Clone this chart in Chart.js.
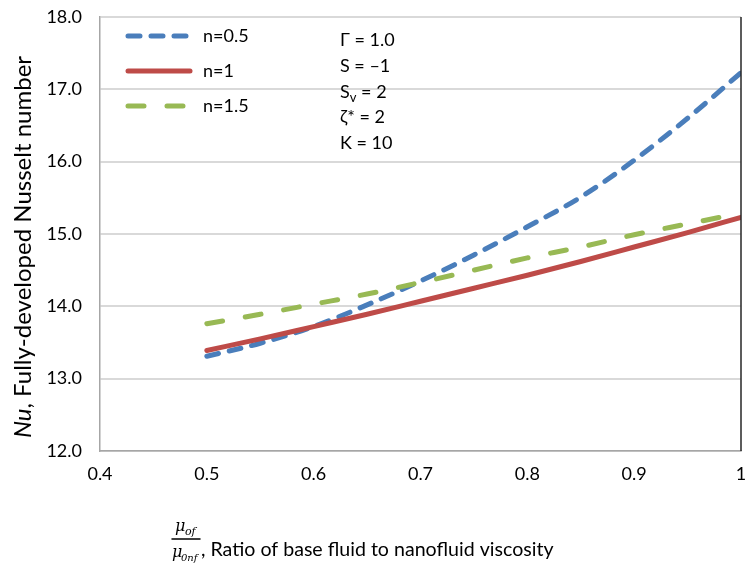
<!DOCTYPE html>
<html><head><meta charset="utf-8">
<script src="https://cdn.jsdelivr.net/npm/chart.js@4.4.0/dist/chart.umd.min.js"></script>
<style>html,body{margin:0;padding:0;background:#fff;}#wrap{width:747px;height:571px;position:relative;}</style>
</head><body><div id="wrap"><canvas id="c" width="747" height="571"></canvas></div>
<script>
const viscosityRatio = [0.5, 0.55, 0.6, 0.65, 0.7, 0.75, 0.8, 0.85, 0.9, 0.95, 1.0];
const nuN05 = [13.31, 13.49, 13.72, 14.02, 14.35, 14.71, 15.10, 15.51, 16.02, 16.60, 17.23];
const nuN1  = [13.39, 13.55, 13.72, 13.89, 14.07, 14.25, 14.43, 14.62, 14.82, 15.02, 15.23];
const nuN15 = [13.76, 13.89, 14.03, 14.17, 14.33, 14.50, 14.67, 14.82, 14.99, 15.14, 15.29];
const seriesNames = ['n=0.5', 'n=1', 'n=1.5'];
const xTickLabels = ['0.4', '0.5', '0.6', '0.7', '0.8', '0.9', '1'];
const yTickLabels = ['12.0', '13.0', '14.0', '15.0', '16.0', '17.0', '18.0'];
const parameterLines = [
  [['Γ = 1.0', 0]],
  [['S = –1', 0]],
  [['S', 0], ['v', 1], [' = 2', 0]],
  [['ζ* = 2', 0]],
  [['K = 10', 0]]
];
const yTitleItalic = 'Nu';
const yTitleRest = ', Fully-developed Nusselt number';
const xTitleRest = ', Ratio of base fluid to nanofluid viscosity';

const FONT = 'Lato, "Open Sans", sans-serif';
const colors = ['#4a7ebb', '#be4b48', '#98b954'];
const dashes = [[12, 11], [], [16, 23]];

function pts(ys) { return viscosityRatio.map((x, i) => ({x: x, y: ys[i]})); }
const seriesData = [nuN05, nuN1, nuN15];

const decor = {
  id: 'decor',
  afterDraw(chart) {
    const ctx = chart.ctx, a = chart.chartArea;
    ctx.save();
    ctx.strokeStyle = '#262626'; ctx.lineWidth = 1.5;
    ctx.beginPath(); ctx.moveTo(a.right, a.top); ctx.lineTo(a.right, a.bottom); ctx.stroke();
    ctx.lineCap = 'round';
    ctx.font = '18px ' + FONT; ctx.fillStyle = '#000'; ctx.textBaseline = 'middle';
    const ly = [36, 71, 106];
    for (let i = 0; i < 3; i++) {
      ctx.strokeStyle = colors[i]; ctx.lineWidth = 5; ctx.setLineDash(dashes[i]);
      ctx.beginPath(); ctx.moveTo(128, ly[i]); ctx.lineTo(190, ly[i]); ctx.stroke();
      ctx.setLineDash([]);
      ctx.fillText(seriesNames[i], 203, ly[i]);
    }
    const py = [40, 66, 92, 117, 143];
    parameterLines.forEach((segs, i) => {
      let x = 340;
      segs.forEach(([t, sub]) => {
        if (sub) { ctx.font = '13px ' + FONT; ctx.fillText(t, x, py[i] + 6); }
        else { ctx.font = '18px ' + FONT; ctx.fillText(t, x, py[i]); }
        x += ctx.measureText(t).width;
      });
    });
    ctx.save();
    ctx.translate(31, 247); ctx.rotate(-Math.PI / 2);
    ctx.textBaseline = 'alphabetic';
    const ys = 24;
    ctx.font = 'italic ' + ys + 'px ' + FONT;
    const w1 = ctx.measureText(yTitleItalic).width;
    ctx.font = ys + 'px ' + FONT;
    const w2 = ctx.measureText(yTitleRest).width;
    let sx = -(w1 + w2) / 2;
    ctx.font = 'italic ' + ys + 'px ' + FONT; ctx.fillText(yTitleItalic, sx, 0);
    ctx.font = ys + 'px ' + FONT; ctx.fillText(yTitleRest, sx + w1, 0);
    ctx.restore();
    ctx.textBaseline = 'alphabetic';
    ctx.font = 'italic 16px "DejaVu Serif", serif';
    ctx.fillText('μ', 175, 531);
    ctx.font = 'italic 11px "DejaVu Serif", serif';
    ctx.fillText('of', 185, 535);
    ctx.strokeStyle = '#000'; ctx.lineWidth = 1.5;
    ctx.beginPath(); ctx.moveTo(172, 539); ctx.lineTo(200, 539); ctx.stroke();
    ctx.font = 'italic 16px "DejaVu Serif", serif';
    ctx.fillText('μ', 172, 557);
    ctx.font = 'italic 10px "DejaVu Serif", serif';
    ctx.fillText('0nf', 181, 561);
    ctx.font = '19.6px ' + FONT;
    ctx.fillText(xTitleRest, 201, 556);
    ctx.restore();
  }
};

new Chart(document.getElementById('c'), {
  type: 'line',
  data: {
    datasets: seriesData.map((ys, i) => ({
      label: seriesNames[i],
      data: pts(ys),
      borderColor: colors[i],
      backgroundColor: colors[i],
      borderWidth: 5,
      borderDash: dashes[i],
      borderCapStyle: 'round',
      pointRadius: 0,
      cubicInterpolationMode: 'monotone',
      order: 3 - i
    }))
  },
  options: {
    responsive: false,
    animation: false,
    layout: { padding: { top: 17, right: 6, left: 0, bottom: 0 } },
    plugins: { legend: { display: false }, tooltip: { enabled: false } },
    scales: {
      x: {
        type: 'linear', min: 0.4, max: 1.0,
        afterBuildTicks(s) { s.ticks = xTickLabels.map(v => ({value: parseFloat(v)})); },
        ticks: { callback: (v, i) => xTickLabels[i], font: { size: 18, family: FONT }, color: '#000', padding: 12, maxRotation: 0 },
        grid: { display: false, drawTicks: false },
        border: { display: true, color: '#a6a6a6', width: 1.5 },
        afterFit(s) { s.height = 120; s.paddingLeft = 0; s.paddingRight = 0; }
      },
      y: {
        min: 12, max: 18,
        afterBuildTicks(s) { s.ticks = yTickLabels.map(v => ({value: parseFloat(v)})); },
        ticks: { callback: (v, i) => yTickLabels[i], font: { size: 18, family: FONT }, color: '#000', padding: 18 },
        grid: { color: '#d9d9d9', lineWidth: 2, drawTicks: false },
        border: { display: true, color: '#a6a6a6', width: 1.5 },
        afterFit(s) { s.width = 100; s.paddingTop = 0; s.paddingBottom = 0; }
      }
    }
  },
  plugins: [decor]
});
</script></body></html>
